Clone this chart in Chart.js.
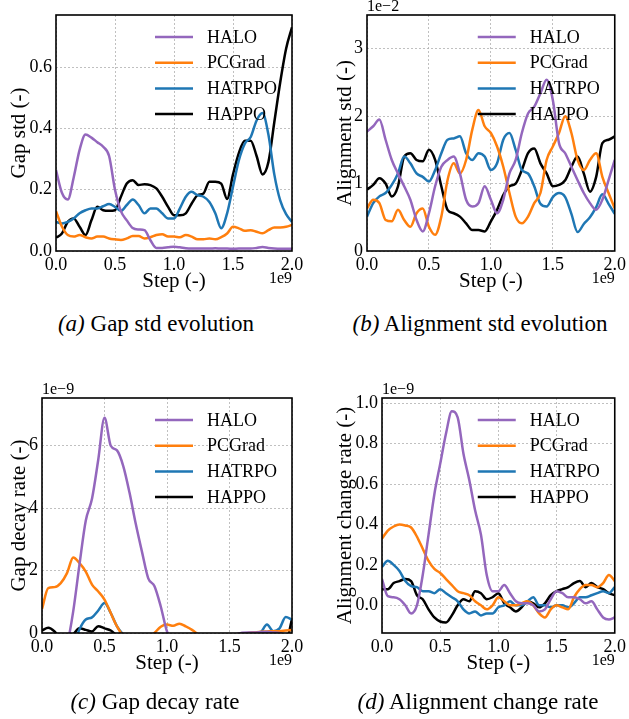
<!DOCTYPE html>
<html>
<head>
<meta charset="utf-8">
<script src="https://cdn.jsdelivr.net/npm/chart.js@4/dist/chart.umd.min.js"></script>
<style>
  body { margin: 0; background: #fff; }
  #fig { position: relative; width: 629px; height: 719px; background: #fff; }
  canvas { position: absolute; }
  .cap { position: absolute; width: 320px; text-align: center; font-family: "Liberation Serif", "Times New Roman", serif; font-size: 23px; line-height: 26px; color: #000; }
  .cap i { font-style: italic; }
</style>
</head>
<body>
<div id="fig">
  <canvas id="pa" width="310" height="300" style="left:0px;top:0px"></canvas>
  <canvas id="pb" width="319" height="300" style="left:310px;top:0px"></canvas>
  <canvas id="pc" width="310" height="320" style="left:0px;top:370px"></canvas>
  <canvas id="pd" width="319" height="320" style="left:310px;top:370px"></canvas>
  <div class="cap" style="left:-4px;top:311px"><i>(a)</i> Gap std evolution</div>
  <div class="cap" style="left:320px;top:311px"><i>(b)</i> Alignment std evolution</div>
  <div class="cap" style="left:-5px;top:689px"><i>(c)</i> Gap decay rate</div>
  <div class="cap" style="left:318px;top:689px"><i>(d)</i> Alignment change rate</div>
</div>
<script>
const FONT = '"Liberation Serif", "Times New Roman", serif';

// Step axis, in units of 1e9
const steps = [0, 0.05, 0.1, 0.15, 0.2, 0.25, 0.3, 0.35, 0.4, 0.45,
  0.5, 0.55, 0.6, 0.65, 0.7, 0.75, 0.8, 0.85, 0.9, 0.95,
  1.0, 1.05, 1.1, 1.15, 1.2, 1.25, 1.3, 1.35, 1.4, 1.45,
  1.5, 1.55, 1.6, 1.65, 1.7, 1.75, 1.8, 1.85, 1.9, 1.95, 2.0];
const xTicks = [0, 0.5, 1.0, 1.5, 2.0];

const methods = ['HALO', 'PCGrad', 'HATRPO', 'HAPPO'];
const colors = ['#9467bd', '#ff7f0e', '#1f77b4', '#000000'];

// (a) Gap std
const gapHALO = [0.264, 0.19, 0.168, 0.24, 0.33, 0.38, 0.37, 0.355, 0.34, 0.31,
  0.2, 0.13, 0.1, 0.075, 0.07, 0.068, 0.035, 0.01, 0.01, 0.012,
  0.014, 0.012, 0.009, 0.008, 0.008, 0.008, 0.008, 0.009, 0.008, 0.008,
  0.007, 0.008, 0.008, 0.008, 0.01, 0.013, 0.01, 0.008, 0.007, 0.007, 0.007];
const gapPCGrad = [0.13, 0.08, 0.052, 0.047, 0.052, 0.045, 0.041, 0.047, 0.047, 0.041,
  0.038, 0.036, 0.041, 0.049, 0.049, 0.041, 0.045, 0.052, 0.055, 0.047,
  0.047, 0.045, 0.052, 0.047, 0.038, 0.038, 0.041, 0.038, 0.045, 0.057,
  0.079, 0.074, 0.066, 0.068, 0.063, 0.058, 0.068, 0.077, 0.077, 0.079, 0.085];
const gapHATRPO = [0.095, 0.09, 0.095, 0.106, 0.123, 0.133, 0.139, 0.139, 0.146, 0.153,
  0.144, 0.131, 0.15, 0.168, 0.15, 0.123, 0.139, 0.139, 0.123, 0.106,
  0.106, 0.139, 0.177, 0.193, 0.182, 0.177, 0.16, 0.123, 0.074, 0.123,
  0.21, 0.296, 0.35, 0.372, 0.426, 0.45, 0.38, 0.25, 0.165, 0.12, 0.095];
const gapHAPPO = [0.043, 0.057, 0.095, 0.106, 0.079, 0.052, 0.1, 0.144, 0.133, 0.131,
  0.133, 0.177, 0.22, 0.231, 0.215, 0.218, 0.215, 0.204, 0.177, 0.144,
  0.117, 0.117, 0.123, 0.155, 0.182, 0.188, 0.226, 0.226, 0.22, 0.17,
  0.25, 0.32, 0.36, 0.36, 0.31, 0.25, 0.29, 0.42, 0.55, 0.66, 0.73];

// (b) Alignment std, in units of 1e-2
const alnHALO = [1.77, 1.85, 1.95, 1.65, 1.35, 1.15, 0.96, 0.76, 0.46, 0.29,
  0.56, 0.96, 1.25, 1.35, 1.4, 1.15, 0.76, 0.66, 0.71, 0.96,
  0.76, 0.56, 0.76, 1.15, 1.35, 1.75, 2.04, 2.14, 2.34, 2.54,
  2.24, 1.6, 1.45, 1.25, 1.05, 0.86, 0.71, 0.61, 0.76, 1.05, 1.35];
const alnPCGrad = [0.63, 0.76, 0.71, 0.46, 0.44, 0.61, 0.46, 0.36, 0.56, 0.63,
  0.36, 0.24, 0.51, 1.05, 1.3, 1.15, 1.35, 1.8, 2.09, 1.85,
  1.75, 1.55, 1.25, 0.86, 0.51, 0.41, 0.51, 0.71, 0.86, 1.35,
  1.55, 1.75, 2.0, 1.75, 1.35, 1.2, 1.35, 1.45, 1.1, 0.86, 0.63];
const alnHATRPO = [0.51, 0.71, 0.81, 0.86, 0.98, 1.15, 1.4, 1.3, 1.15, 1.1,
  1.03, 1.2, 1.45, 1.65, 1.67, 1.7, 1.45, 1.35, 1.45, 1.4,
  1.2, 1.3, 1.65, 1.75, 1.5, 1.2, 1.15, 0.96, 0.7, 0.66,
  0.8, 0.86, 0.8, 0.55, 0.28, 0.4, 0.5, 0.65, 0.84, 0.7, 0.55];
const alnHAPPO = [0.91, 0.98, 1.08, 1.0, 0.81, 0.96, 1.4, 1.45, 1.35, 1.33,
  1.5, 1.35, 0.96, 0.61, 0.56, 0.51, 0.41, 0.31, 0.31, 0.29,
  0.44, 0.61, 0.83, 0.96, 1.0, 1.2, 1.45, 1.52, 1.3, 1.15,
  0.96, 0.98, 1.05, 1.25, 1.4, 1.15, 0.88, 1.1, 1.6, 1.65, 1.7];

// (c) Gap decay rate, in units of 1e-9
const decHALO = [-1.5, -1.5, -1.3, -1.0, -0.4, 0.7, 2.2, 3.6, 4.3, 5.55,
  6.9, 6.0, 5.85, 5.35, 4.5, 3.5, 2.6, 1.75, 1.5, 0.85,
  0.05, -0.3, -0.4, -0.4, -0.4, -0.4, -0.4, -0.3, -0.3, -0.2,
  -0.1, -0.05, 0.01, 0.02, 0.02, 0.03, 0.04, 0.02, 0.0, -0.05, -0.05];
const decPCGrad = [0.77, 1.44, 1.47, 1.6, 1.92, 2.42, 2.24, 1.97, 1.55, 1.33,
  1.07, 0.64, 0.21, -0.1, -0.3, -0.3, -0.3, -0.2, 0.0, 0.2,
  0.27, 0.23, 0.3, 0.21, 0.1, -0.05, -0.2, -0.2, -0.2, -0.2,
  -0.2, -0.1, -0.05, 0.0, 0.02, 0.04, 0.05, 0.06, 0.06, 0.08, 0.1];
const decHATRPO = [-0.5, -0.5, -0.5, -0.5, -0.5, -0.4, 0.12, 0.43, 0.5, 0.72,
  0.96, 0.64, 0.21, -0.05, -0.2, -0.3, -0.3, -0.3, -0.3, -0.3,
  -0.3, -0.3, -0.3, -0.3, -0.3, -0.3, -0.3, -0.3, -0.3, -0.3,
  -0.3, -0.3, -0.3, -0.3, -0.1, 0.02, 0.27, 0.06, 0.15, 0.51, 0.43];
const decHAPPO = [0.08, 0.17, 0.05, -0.2, -0.3, -0.05, 0.15, 0.1, 0.05, 0.22,
  0.15, 0.08, -0.1, -0.3, -0.3, -0.3, -0.3, -0.3, -0.3, -0.3,
  -0.3, -0.3, -0.3, -0.3, -0.3, -0.3, -0.3, -0.3, -0.3, -0.3,
  -0.3, -0.3, -0.3, -0.3, -0.3, -0.3, -0.3, -0.3, -0.3, -0.3, 0.45];

// (d) Alignment change rate, in units of 1e-9
const chgHALO = [0.13, 0.045, 0.04, 0.03, 0.0, -0.04, 0.0, 0.15, 0.35, 0.55,
  0.7, 0.85, 0.96, 0.93, 0.75, 0.62, 0.47, 0.35, 0.15, 0.07,
  0.07, 0.1, 0.06, 0.02, 0.01, 0.01, 0.0, -0.03, -0.02, 0.03,
  0.07, 0.06, 0.04, 0.04, 0.03, 0.01, 0.02, -0.02, -0.06, -0.07, -0.06];
const chgPCGrad = [0.33, 0.37, 0.39, 0.4, 0.395, 0.385, 0.34, 0.28, 0.22, 0.18,
  0.16, 0.13, 0.1, 0.07, 0.06, 0.05, 0.02, 0.0, -0.02, 0.0,
  0.04, 0.02, 0.0, 0.0, 0.01, 0.02, 0.0, -0.04, -0.06, -0.02,
  0.0, -0.01, -0.02, 0.04, 0.08, 0.1, 0.1, 0.09, 0.11, 0.15, 0.12];
const chgHATRPO = [0.19, 0.22, 0.2, 0.17, 0.12, 0.095, 0.09, 0.07, 0.07, 0.06,
  0.08, 0.06, 0.04, 0.02, -0.02, -0.04, -0.03, -0.05, -0.04, -0.04,
  -0.01, 0.0, 0.02, 0.0, 0.0, 0.02, 0.04, 0.0, 0.0, -0.01,
  0.0, 0.0, -0.01, 0.01, 0.04, 0.04, 0.05, 0.06, 0.07, 0.06, 0.09];
const chgHAPPO = [0.08, 0.08, 0.11, 0.12, 0.13, 0.12, 0.05, 0.03, -0.02, -0.06,
  -0.08, -0.085, -0.05, 0.0, 0.03, 0.02, 0.07, 0.06, 0.03, 0.04,
  0.06, 0.01, -0.01, -0.03, -0.01, 0.02, 0.01, -0.01, 0.01, 0.05,
  0.07, 0.08, 0.09, 0.11, 0.12, 0.09, 0.11, 0.09, 0.08, 0.06, 0.05];

// frame, legend and offset texts, matplotlib style
const decoPlugin = {
  id: 'deco',
  afterDatasetsDraw(chart, args, opts) {
    const { ctx, chartArea: a } = chart;
    ctx.save();
    ctx.strokeStyle = '#000';
    ctx.lineWidth = 1.6;
    ctx.strokeRect(a.left, a.top, a.right - a.left, a.bottom - a.top);

    ctx.font = '18px ' + FONT;
    ctx.textAlign = 'left';
    ctx.textBaseline = 'middle';
    chart.data.datasets.forEach((ds, i) => {
      const y = a.top + 22 + i * 25.7;
      ctx.strokeStyle = ds.borderColor;
      ctx.lineWidth = 2.5;
      ctx.beginPath();
      ctx.moveTo(a.right - 137, y);
      ctx.lineTo(a.right - 99, y);
      ctx.stroke();
      ctx.fillStyle = '#000';
      ctx.fillText(ds.label, a.right - 85, y + 1);
    });

    ctx.font = '16px ' + FONT;
    if (opts.yOffset) {
      ctx.textBaseline = 'bottom';
      ctx.fillText(opts.yOffset, a.left, a.top);
    }
    ctx.textAlign = 'right';
    ctx.textBaseline = 'middle';
    ctx.fillText('1e9', a.right, a.bottom + 28);
    ctx.restore();
  }
};

function makePanel(id, p) {
  const datasets = p.series.map((s, i) => ({
    label: methods[i],
    data: steps.map((x, k) => ({ x: x, y: s[k] })),
    borderColor: colors[i],
    borderWidth: 2.5,
    pointRadius: 0,
    cubicInterpolationMode: 'monotone',
    fill: false
  }));

  return new Chart(document.getElementById(id), {
    type: 'line',
    data: { datasets: datasets },
    plugins: [decoPlugin],
    options: {
      responsive: false,
      animation: false,
      devicePixelRatio: 1,
      layout: { padding: { top: p.top, right: p.right, left: 0, bottom: 0 } },
      plugins: {
        legend: { display: false },
        tooltip: { enabled: false },
        deco: { yOffset: p.yOffset }
      },
      scales: {
        x: {
          type: 'linear',
          min: 0,
          max: 2,
          afterBuildTicks: s => { s.ticks = xTicks.map(v => ({ value: v })); },
          afterFit: s => { s.height = p.xHeight; },
          grid: { color: '#b0b0b0', lineWidth: 0.8, drawTicks: false },
          border: { display: false, dash: [2, 2] },
          ticks: {
            autoSkip: false, maxRotation: 0, padding: 3,
            color: '#000', font: { family: FONT, size: 18 },
            callback: v => v.toFixed(1)
          },
          title: {
            display: true, text: 'Step (-)', color: '#000',
            font: { family: FONT, size: 21, lineHeight: 1 },
            padding: { top: 0, bottom: p.xTitlePad }
          }
        },
        y: {
          min: p.yMin,
          max: p.yMax,
          afterBuildTicks: s => { s.ticks = p.yTicks.map(v => ({ value: v })); },
          afterFit: s => { s.width = p.yWidth; },
          grid: { color: '#b0b0b0', lineWidth: 0.8, drawTicks: false },
          border: { display: false, dash: [2, 2] },
          ticks: {
            padding: 4, color: '#000', font: { family: FONT, size: 18 },
            callback: v => v.toFixed(p.dec)
          },
          title: {
            display: true, text: p.yTitle, color: '#000',
            font: { family: FONT, size: 21, lineHeight: 1 },
            padding: { top: p.yTitlePad, bottom: 0 }
          }
        }
      }
    }
  });
}

makePanel('pa', {
  series: [gapHALO, gapPCGrad, gapHATRPO, gapHAPPO],
  top: 15, right: 18, yWidth: 56, xHeight: 49,
  yMin: 0, yMax: 0.77, yTicks: [0, 0.2, 0.4, 0.6], dec: 1,
  yTitle: 'Gap std (-)', yTitlePad: 8.5, xTitlePad: 8.5
});
makePanel('pb', {
  series: [alnHALO, alnPCGrad, alnHATRPO, alnHAPPO],
  top: 15, right: 13, yWidth: 57, xHeight: 49,
  yMin: 0, yMax: 3.5, yTicks: [0, 1, 2, 3], dec: 0, yOffset: '1e\u22122',
  yTitle: 'Alignment std (-)', yTitlePad: 24.5, xTitlePad: 8.5
});
makePanel('pc', {
  series: [decHALO, decPCGrad, decHATRPO, decHAPPO],
  top: 28, right: 18, yWidth: 42, xHeight: 57,
  yMin: 0, yMax: 7.53, yTicks: [0, 2, 4, 6], dec: 0, yOffset: '1e\u22129',
  yTitle: 'Gap decay rate (-)', yTitlePad: 9, xTitlePad: 16.5
});
makePanel('pd', {
  series: [chgHALO, chgPCGrad, chgHATRPO, chgHAPPO],
  top: 28, right: 13, yWidth: 72, xHeight: 57,
  yMin: -0.137, yMax: 1.026, yTicks: [0, 0.2, 0.4, 0.6, 0.8, 1.0], dec: 1, yOffset: '1e\u22129',
  yTitle: 'Alignment change rate (-)', yTitlePad: 24.5, xTitlePad: 16.5
});
</script>
</body>
</html>
